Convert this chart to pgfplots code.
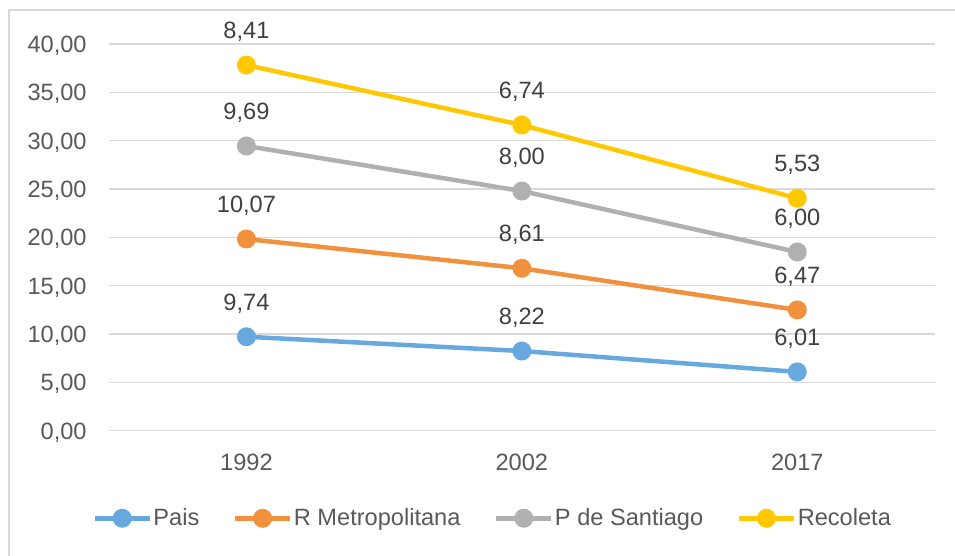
\documentclass[border=0pt]{standalone}
\usepackage{pgfplots}
\pgfplotsset{compat=1.18}
\usepackage{fontspec}
\setmainfont{Liberation Sans}
\definecolor{cPais}{HTML}{67A9DE}
\definecolor{cRM}{HTML}{F2913D}
\definecolor{cPS}{HTML}{B0B0B0}
\definecolor{cRec}{HTML}{FFC800}
\definecolor{gridgray}{HTML}{D9D9D9}
\definecolor{framegray}{HTML}{D9D9D9}
\definecolor{tickgray}{HTML}{595959}
\definecolor{labelgray}{HTML}{404040}
\newcommand{\cf}{\fontsize{11.8}{14}\selectfont}
\pgfplotstableread{
x y lab
0 9.72 9,74
1 8.24 8,22
2 6.08 6,01
}\tPais
\pgfplotstableread{
x y lab
0 19.83 10,07
1 16.80 8,61
2 12.49 6,47
}\tRM
\pgfplotstableread{
x y lab
0 29.45 9,69
1 24.79 8,00
2 18.48 6,00
}\tPS
\pgfplotstableread{
x y lab
0 37.82 8,41
1 31.62 6,74
2 24.04 5,53
}\tRec
\begin{document}
\begin{tikzpicture}
\useasboundingbox (0,0) rectangle (477.5pt,278pt);
\fill[white] (0,0) rectangle (477.5pt,278pt);
\draw[framegray, line width=0.8pt] (4.6pt,-20pt) rectangle (500pt,273pt);
\begin{axis}[
  at={(54.35pt,62.65pt)}, anchor=south west,
  scale only axis, width=413.15pt, height=193.35pt,
  xmin=-0.5, xmax=2.5, ymin=0, ymax=40,
  xtick={0,1,2}, xticklabels={1992,2002,2017},
  ytick={0,5,10,15,20,25,30,35,40},
  yticklabels={{0,00},{5,00},{10,00},{15,00},{20,00},{25,00},{30,00},{35,00},{40,00}},
  axis line style={draw=none},
  major tick length=0pt,
  ymajorgrids, grid style={gridgray, line width=0.65pt},
  clip=false,
  tick label style={font=\cf, text=tickgray},
  yticklabel style={anchor=base east, inner sep=0pt, xshift=-10.85pt, yshift=-4.22pt},
  xticklabel style={anchor=base, inner sep=0pt, yshift=-19.7pt},
  every axis plot/.append style={line width=2.25pt, mark=*, mark size=3.6pt},
  point meta=explicit symbolic,
  nodes near coords,
  every node near coord/.append style={anchor=base, inner sep=0pt, yshift=13.3pt, font=\cf, text=labelgray},
  legend columns=4,
  legend style={at={(-0.0196,-0.2265)}, anchor=west, draw=none, fill=none,
    inner sep=0pt, outer sep=0pt, font=\cf, text=tickgray,
    nodes={inner xsep=0.75pt, inner ysep=0pt},
    /tikz/every even column/.append style={column sep=16pt}},
  legend image code/.code={\draw[mark repeat=2,mark phase=2,#1] plot coordinates {(0pt,0pt) (13.75pt,0pt) (27.5pt,0pt)};},
]
\addplot[color=cPais, mark options={draw=none, fill=cPais}] table[x=x, y=y, meta=lab] {\tPais};
\addlegendentry{Pais}
\addplot[color=cRM, mark options={draw=none, fill=cRM}] table[x=x, y=y, meta=lab] {\tRM};
\addlegendentry{R Metropolitana}
\addplot[color=cPS, mark options={draw=none, fill=cPS}] table[x=x, y=y, meta=lab] {\tPS};
\addlegendentry{P de Santiago}
\addplot[color=cRec, mark options={draw=none, fill=cRec}] table[x=x, y=y, meta=lab] {\tRec};
\addlegendentry{Recoleta}
\end{axis}
\end{tikzpicture}
\end{document}
